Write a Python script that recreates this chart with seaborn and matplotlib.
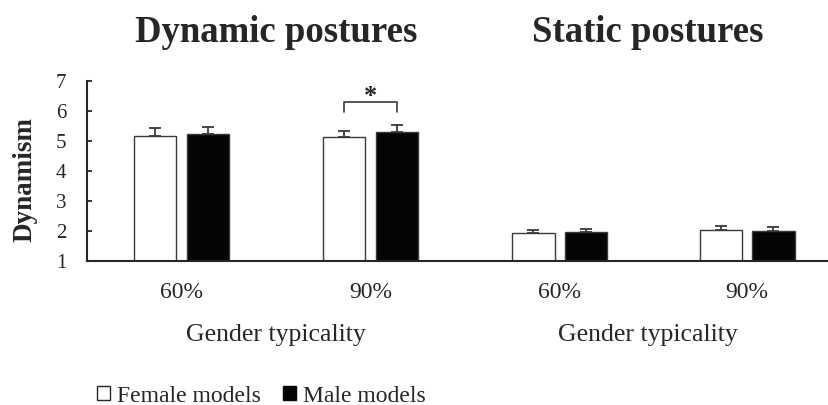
import matplotlib
matplotlib.use("Agg")
import matplotlib.pyplot as plt
from matplotlib.patches import Patch
import seaborn as sns
import pandas as pd

sns.set_theme(style="white")
plt.rcParams["font.family"] = ["Liberation Serif", "DejaVu Serif"]

# Mean dynamism ratings and upper error (SE) per condition
typicality = ["60%", "90%"]
models = ["Female models", "Male models"]
dynamic_female = [5.18, 5.12]
dynamic_male = [5.23, 5.31]
dynamic_female_err = [0.24, 0.22]
dynamic_male_err = [0.23, 0.22]
static_female = [1.92, 2.04]
static_male = [1.96, 2.00]
static_female_err = [0.11, 0.12]
static_male_err = [0.12, 0.13]

panel_titles = ["Dynamic postures", "Static postures"]
y_ticks = [1, 2, 3, 4, 5, 6, 7]


def frame(female, male):
    return pd.DataFrame({
        "typicality": typicality * 2,
        "model": [models[0]] * 2 + [models[1]] * 2,
        "value": list(female) + list(male),
    })


fig = plt.figure(figsize=(8.29, 4.05), dpi=100)
ax_l = fig.add_axes([87 / 829, 1 - 261 / 405, 378 / 829, 180 / 405])
ax_r = fig.add_axes([466 / 829, 1 - 261 / 405, 363 / 829, 180 / 405])

palette = {models[0]: "white", models[1]: "#050505"}
line_c = "#262626"

panels = [
    (ax_l, dynamic_female, dynamic_male, dynamic_female_err, dynamic_male_err, (-0.5, 1.5)),
    (ax_r, static_female, static_male, static_female_err, static_male_err, (-0.5, 1.437)),
]

for ax, fem, mal, fem_e, mal_e, xlim in panels:
    df = frame(fem, mal)
    sns.barplot(data=df, x="typicality", y="value", hue="model",
                palette=palette, width=0.56, gap=0.19, errorbar=None,
                edgecolor="#3a3a3a", linewidth=1.0, legend=False, ax=ax)
    errs = list(fem_e) + list(mal_e)
    vals = list(fem) + list(mal)
    for patch, v, e in zip(ax.patches, vals, errs):
        cx = patch.get_x() + patch.get_width() / 2
        ax.errorbar(cx, v, yerr=[[0], [e]], fmt="none", ecolor="#3a3a3a",
                    elinewidth=1.3, capsize=4.3, capthick=1.3, zorder=3)
    ax.set_ylim(1, 7)
    ax.set_xlim(*xlim)
    ax.set_xlabel("Gender typicality", fontsize=18.5, labelpad=15)
    ax.tick_params(axis="x", length=0, labelsize=17, pad=15)
    for s in ["top", "right"]:
        ax.spines[s].set_visible(False)
    ax.spines["bottom"].set_linewidth(1.5)
    ax.spines["bottom"].set_color(line_c)

ax_l.set_yticks(y_ticks)
ax_l.tick_params(axis="y", direction="in", length=3.8, width=1.3, labelsize=15,
                 left=True, pad=15, color=line_c)
ax_l.spines["left"].set_linewidth(1.5)
ax_l.spines["left"].set_color(line_c)
ax_l.set_ylabel("Dynamism", fontsize=19.5, fontweight="bold")
ax_l.yaxis.set_label_coords(-0.13, 0.45)

ax_r.spines["left"].set_visible(False)
ax_r.set_yticks([])
ax_r.set_ylabel("")

ax_l.set_title(panel_titles[0], fontsize=26.5, fontweight="bold", pad=28)
ax_r.set_title(panel_titles[1], fontsize=26.5, fontweight="bold", pad=28)

# Significance bracket between the 90% bars of the dynamic panel
p_f, p_m = ax_l.patches[1], ax_l.patches[3]
x1 = p_f.get_x() + p_f.get_width() / 2
x2 = p_m.get_x() + p_m.get_width() / 2
y_top = max(dynamic_female[1] + dynamic_female_err[1], dynamic_male[1] + dynamic_male_err[1]) + 0.78
ax_l.plot([x1, x1, x2, x2], [y_top - 0.33, y_top, y_top, y_top - 0.33],
          color="#3a3a3a", linewidth=1.2, clip_on=False)
ax_l.text((x1 + x2) / 2, y_top - 0.2, "*", ha="center", va="bottom",
          fontsize=19, fontweight="bold")

handles = [Patch(facecolor="white", edgecolor=line_c, linewidth=1.0),
           Patch(facecolor="#050505", edgecolor="#050505")]
fig.legend(handles, models, loc="center left", bbox_to_anchor=(83 / 829, 1 - 396 / 405),
           ncol=2, frameon=False, fontsize=17, handlelength=0.55, handleheight=0.55,
           handletextpad=0.3, columnspacing=0.92, borderaxespad=0.2)

fig.savefig("out.png", dpi=100)
